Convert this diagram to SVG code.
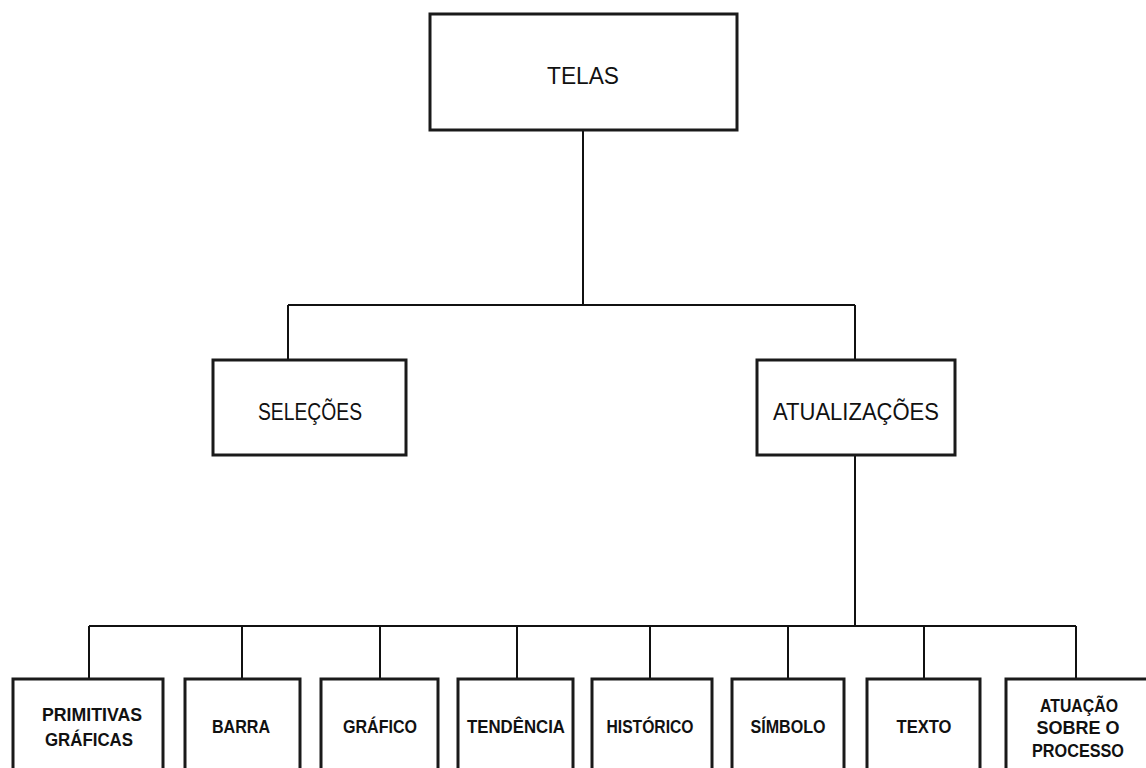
<svg xmlns="http://www.w3.org/2000/svg" width="1146" height="768" viewBox="0 0 1146 768">
<style>
.box{fill:#fff;stroke:#1a1a1a;stroke-width:3}
.ln{fill:none;stroke:#111;stroke-width:2}
.t1{font-family:"Liberation Sans",Arial,sans-serif;font-size:23px;fill:#111;text-anchor:middle}
.t2{font-family:"Liberation Sans",Arial,sans-serif;font-size:23px;fill:#111;text-anchor:middle}
.t3{font-family:"Liberation Sans",Arial,sans-serif;font-size:19px;font-weight:bold;fill:#111;text-anchor:middle}
</style>
<rect width="1146" height="768" fill="#fff"/>
<g id="connectors">
<path class="ln" d="M583 130 V305 M288 305 H855 M288 305 V360 M855 305 V360"/>
<path class="ln" d="M855 455 V626 M89 626 H1076 M89 626 V679 M242 626 V679 M380 626 V679 M517 626 V679 M650 626 V679 M788 626 V679 M924 626 V679 M1076 626 V679"/>
</g>
<g id="telas"><rect class="box" x="430" y="14" width="307" height="116"/><text class="t1" x="583" y="84" textLength="72" lengthAdjust="spacingAndGlyphs">TELAS</text></g>
<g id="selecoes"><rect class="box" x="213" y="360" width="193" height="95"/><text class="t2" x="310" y="420" textLength="104" lengthAdjust="spacingAndGlyphs">SELEÇÕES</text></g>
<g id="atualizacoes"><rect class="box" x="757" y="360" width="198" height="95"/><text class="t2" x="856" y="420" textLength="166" lengthAdjust="spacingAndGlyphs">ATUALIZAÇÕES</text></g>
<g id="primitivas"><rect class="box" x="13" y="679" width="150" height="110"/><text class="t3" x="92" y="721" textLength="100" lengthAdjust="spacingAndGlyphs">PRIMITIVAS</text><text class="t3" x="89" y="746" textLength="88" lengthAdjust="spacingAndGlyphs">GRÁFICAS</text></g>
<g id="barra"><rect class="box" x="185" y="679" width="115" height="110"/><text class="t3" x="241" y="733" textLength="58" lengthAdjust="spacingAndGlyphs">BARRA</text></g>
<g id="grafico"><rect class="box" x="321" y="679" width="117" height="110"/><text class="t3" x="380" y="733" textLength="74" lengthAdjust="spacingAndGlyphs">GRÁFICO</text></g>
<g id="tendencia"><rect class="box" x="458" y="679" width="115" height="110"/><text class="t3" x="516" y="733" textLength="98" lengthAdjust="spacingAndGlyphs">TENDÊNCIA</text></g>
<g id="historico"><rect class="box" x="592" y="679" width="120" height="110"/><text class="t3" x="650" y="733" textLength="87" lengthAdjust="spacingAndGlyphs">HISTÓRICO</text></g>
<g id="simbolo"><rect class="box" x="732" y="679" width="112" height="110"/><text class="t3" x="788" y="733" textLength="75" lengthAdjust="spacingAndGlyphs">SÍMBOLO</text></g>
<g id="texto"><rect class="box" x="867" y="679" width="113" height="110"/><text class="t3" x="924" y="733" textLength="55" lengthAdjust="spacingAndGlyphs">TEXTO</text></g>
<g id="atuacao"><rect class="box" x="1006" y="679" width="150" height="110"/><text class="t3" x="1079" y="712" textLength="78" lengthAdjust="spacingAndGlyphs">ATUAÇÃO</text><text class="t3" x="1078" y="734" textLength="83" lengthAdjust="spacingAndGlyphs" font-weight="normal">SOBRE  O</text><text class="t3" x="1078" y="757" textLength="92" lengthAdjust="spacingAndGlyphs">PROCESSO</text></g>
</svg>
